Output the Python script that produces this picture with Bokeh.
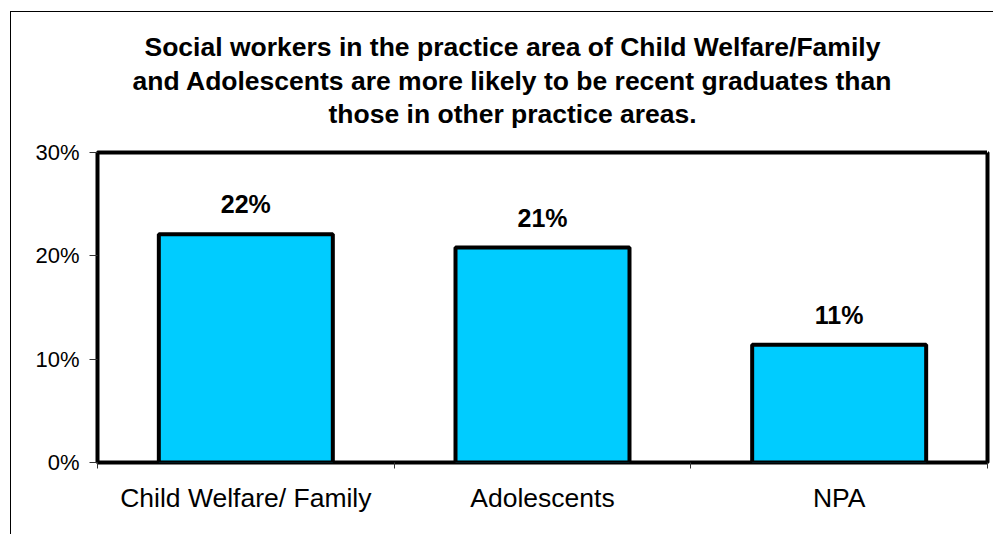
from bokeh.plotting import figure
from bokeh.models import FixedTicker, ColumnDataSource, Title, LinearAxis
from bokeh.core.properties import value
from bokeh.embed import file_html
from bokeh.resources import INLINE

# Share of recent graduates by practice area (percent)
categories = ["Child Welfare/ Family", "Adolescents", "NPA"]
shares = [22.1, 20.8, 11.4]
y_ticks = [0, 10, 20, 30]

title_lines = [
    "Social workers in the practice area of Child Welfare/Family",
    "and Adolescents are more likely to be recent graduates than",
    "those in other practice areas.",
]
# left indent of each heading line from the frame's left edge, px
title_indent = [47, 35, 231]

FONT = "Liberation Sans"

centers = [i + 0.5 for i in range(len(categories))]
bounds = list(range(len(categories) + 1))

src = ColumnDataSource(dict(
    x=centers,
    top=shares,
    label=[f"{v:.0f}%" for v in shares],
))

p = figure(
    width=983, height=523,
    x_range=(0, len(categories)), y_range=(0, 30),
    output_backend="svg", toolbar_location=None,
    min_border_left=86, min_border_right=7,
    min_border_top=140, min_border_bottom=73,
)
p.styles = {"border-left": "1px solid #000", "border-top": "1px solid #000"}
p.margin = (11, 0, 0, 10)

# blank top axis (one white tick at the right edge, no label): reserves a gap
# between the frame and the heading
edge = len(categories)
gap_axis = LinearAxis(ticker=FixedTicker(ticks=[edge]), axis_line_color=None,
                      major_label_overrides={edge: ""},
                      major_tick_in=0, major_tick_out=24, major_label_standoff=0,
                      minor_tick_in=0, minor_tick_out=0,
                      major_tick_line_color="white", minor_tick_line_color=None)
p.add_layout(gap_axis, "above")

# heading: panels stack outward from the frame, so add the last line first
p.title = None
for i, (line, indent) in reversed(list(enumerate(zip(title_lines, title_indent)))):
    p.add_layout(Title(text=line, align="left", offset=indent,
                       text_font=FONT, text_font_size="26.5px",
                       text_font_style="bold", text_color="#000000",
                       standoff=0 if i == len(title_lines) - 1 else 2), "above")

p.outline_line_color = "#000000"
p.outline_line_width = 4
p.xgrid.visible = False
p.ygrid.visible = False
p.background_fill_color = "white"
p.border_fill_color = "white"

p.vbar(x="x", top="top", width=0.5865, source=src,
       fill_color="#00CCFF", line_color="#000000", line_width=4)

p.text(x="x", y="top", text="label", source=src,
       text_align="center", text_baseline="alphabetic", y_offset=-30,
       text_font=value(FONT), text_font_size="25px",
       text_font_style="bold", text_color="#000000")

# y axis: percent ticks
p.yaxis.ticker = FixedTicker(ticks=y_ticks)
p.yaxis.major_label_overrides = {t: f"{t}%" for t in y_ticks}
p.yaxis.major_label_text_font = FONT
p.yaxis.major_label_text_font_size = "22px"
p.yaxis.major_label_text_color = "#000000"
p.yaxis.major_label_standoff = 10
p.yaxis.major_tick_in = 0
p.yaxis.major_tick_out = 8
p.yaxis.major_tick_line_color = "#333333"
p.yaxis.minor_tick_line_color = None
p.yaxis.axis_line_color = None

# bottom x axis: labels at category centres, ticks at category boundaries
xaxis = p.below[0]
xaxis.ticker = FixedTicker(ticks=centers, minor_ticks=bounds)
xaxis.major_label_overrides = {c: name for c, name in zip(centers, categories)}
xaxis.major_label_text_font = FONT
xaxis.major_label_text_font_size = "26.5px"
xaxis.major_label_text_color = "#000000"
xaxis.major_label_standoff = 14
xaxis.major_tick_in = 0
xaxis.major_tick_out = 0
xaxis.minor_tick_in = 0
xaxis.minor_tick_out = 6
xaxis.minor_tick_line_color = "#333333"
xaxis.axis_line_color = None

open("out.html", "w").write(file_html(p, INLINE))
